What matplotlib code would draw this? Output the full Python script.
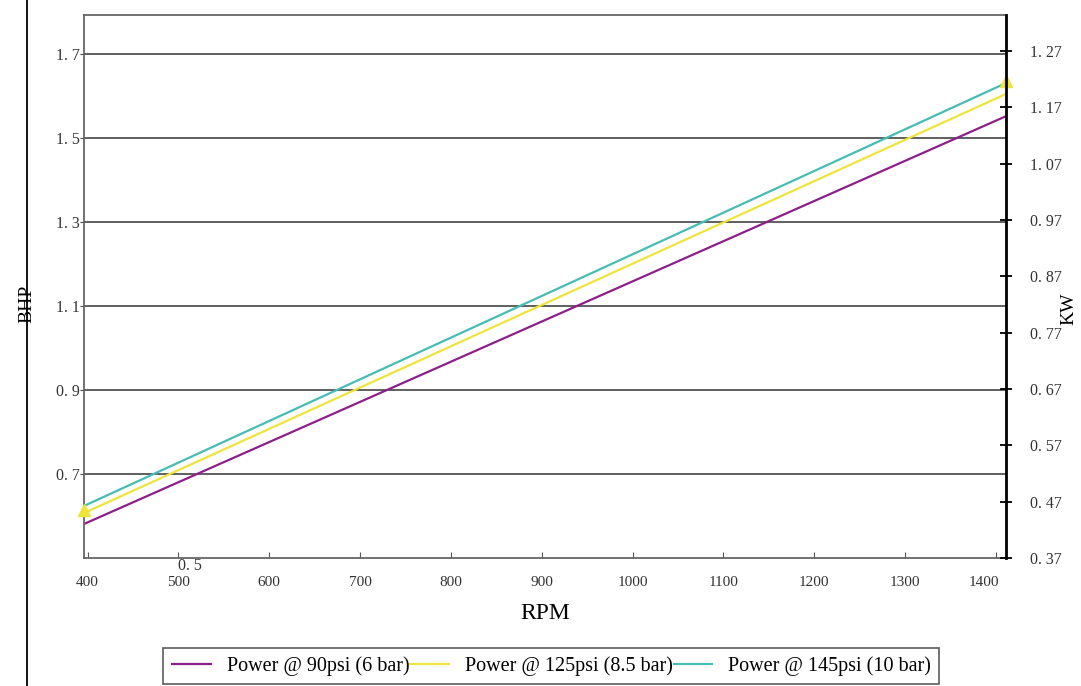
import matplotlib
matplotlib.use("Agg")
import matplotlib.pyplot as plt
from matplotlib.lines import Line2D
from matplotlib.transforms import ScaledTranslation

rpm = [396, 1411]
bhp_90 = [0.581, 1.552]
bhp_125 = [0.607, 1.605]
bhp_145 = [0.624, 1.631]
marker_rpm = [396, 1411]
marker_bhp = [0.614, 1.636]
labels = ["Power @ 90psi (6 bar)", "Power @ 125psi (8.5 bar)", "Power @ 145psi (10 bar)"]
colors = ["#8e1f8a", "#eee43a", "#45bdb5"]
x_ticks = [400, 500, 600, 700, 800, 900, 1000, 1100, 1200, 1300, 1400]
y_ticks = [0.7, 0.9, 1.1, 1.3, 1.5, 1.7]
kw_ticks = [0.37, 0.47, 0.57, 0.67, 0.77, 0.87, 0.97, 1.07, 1.17, 1.27]

plt.rcParams['font.family'] = ['Liberation Serif', 'DejaVu Serif']

fig = plt.figure(figsize=(10.81, 6.86), dpi=100)
ax = fig.add_axes([84/1081, 1-558/686, 922/1081, 543/686])
ylo, yhi = 0.5, 1.793
ax.set_xlim(rpm[0], rpm[1])
ax.set_ylim(ylo, yhi)

for ys, c, lab in zip([bhp_90, bhp_125, bhp_145], colors, labels):
    ax.plot(rpm, ys, color=c, lw=1.6, label=lab, solid_capstyle='butt')
ax.plot(marker_rpm, marker_bhp, ls='none', marker='^', ms=8, color=colors[1], clip_on=False, zorder=5)

ax.set_yticks(y_ticks)
ax.set_yticklabels([f"{v:.1f}".replace('.', '. ') for v in y_ticks], fontsize=11.5, color='#333333')
ax.yaxis.grid(True, color='#444444', lw=1.2)
ax.set_axisbelow(True)
ax.set_xticks(x_ticks)
ax.set_xticklabels([str(v) for v in x_ticks], fontsize=11, color='#333333')
ax.tick_params(axis='x', direction='in', length=4, color='#555555', pad=13)
ax.tick_params(axis='y', direction='out', length=3, color='#444444', pad=0)
for s in ['left', 'top', 'bottom']:
    ax.spines[s].set_color('#666666')
    ax.spines[s].set_linewidth(1.3)
ax.spines['right'].set_visible(False)
last = ax.get_xticklabels()[-1]
last.set_transform(last.get_transform() + ScaledTranslation(-12/100, 0, fig.dpi_scale_trans))
ax.text(512.7, 0.5, "0. 5", fontsize=11.5, color='#333333', ha='center', va='top',
        transform=ax.transData)

ax2 = ax.twinx()
ax2.set_ylim(0.37, 1.334)
ax2.set_yticks(kw_ticks)
ax2.set_yticklabels([f"{v:.2f}".replace('.', '. ') for v in kw_ticks], fontsize=11.5, color='#333333')
ax2.tick_params(axis='y', direction='inout', length=8, width=1.3, color='black', pad=13)
ax2.spines['right'].set_color('black')
ax2.spines['right'].set_linewidth(2)
for s in ['left', 'top', 'bottom']:
    ax2.spines[s].set_visible(False)

ax.set_xlabel("RPM", fontsize=17, labelpad=10)
fig.text(27/1081, 1-304/686, "BHP", rotation=90, fontsize=14, ha='center', va='center')
fig.text(1069/1081, 1-309/686, "KW", rotation=90, fontsize=14, ha='center', va='center')
fig.add_artist(Line2D([27/1081, 27/1081], [0, 1], color='black', lw=1.3))

leg = ax.legend(loc='center', bbox_to_anchor=(551/1081, 1-666/686), bbox_transform=fig.transFigure,
                ncol=3, fontsize=14.5, frameon=True, fancybox=False, columnspacing=0.0,
                handlelength=2.0, handletextpad=0.75, borderpad=0.4, borderaxespad=0)
leg.get_frame().set_edgecolor('#333333')
leg.get_frame().set_linewidth(1.2)

fig.savefig("out.png", dpi=100)
